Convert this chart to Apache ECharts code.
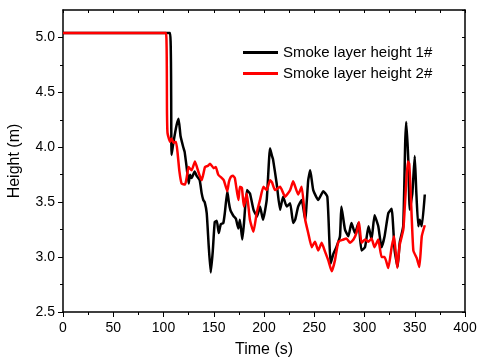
<!DOCTYPE html>
<html lang="en">
<head>
  <meta charset="UTF-8" />
  <title>Smoke layer height</title>
  <script src="https://cdn.jsdelivr.net/npm/echarts@6/dist/echarts.min.js"></script>
  <style>
    html, body, #main {
      margin: 0; padding: 0; width: 100%; height: 100%;
      background: #fff;
    }
  </style>
</head>
<body>
  <div id="main"></div>
  <script>
    const chart = echarts.init(document.getElementById('main'));

    // smoke layer height 1# (black)
    const time1 = [0, 106.5, 108, 110, 113, 115, 117, 119.7, 121, 123, 125, 126.4, 128, 131, 133, 136, 138, 139.6, 141, 143, 145, 147, 149, 151, 153, 155, 157, 159.5, 161, 163.5, 165, 166.5, 168, 170, 172, 174.5, 176, 178.4, 180, 183, 186, 189.6, 193, 196, 199, 202.7, 206, 208, 209, 212.6, 216, 219, 222.6, 226, 229, 231, 234, 237.5, 241, 244, 246, 249, 254, 259, 263, 265, 266.3, 269, 272, 275.6, 277, 280.6, 284, 287, 290.5, 294, 297, 300.5, 304, 307, 310, 313.7, 317, 320, 323.7, 327, 330, 333, 335, 338.5, 340.5, 341.5, 343.6, 345, 347.6, 350, 351.5, 353.5, 355, 357, 360];
    const height1 = [5.04, 5.04, 3.93, 4.05, 4.2, 4.26, 4.1, 4.0, 3.96, 3.82, 3.67, 3.75, 3.72, 3.78, 3.74, 3.70, 3.58, 3.52, 3.50, 3.40, 3.10, 2.86, 3.05, 3.32, 3.33, 3.22, 3.30, 3.31, 3.40, 3.60, 3.50, 3.43, 3.40, 3.37, 3.35, 3.26, 3.34, 3.16, 3.30, 3.61, 3.58, 3.43, 3.37, 3.46, 3.34, 3.52, 3.99, 3.92, 3.89, 3.67, 3.43, 3.55, 3.46, 3.49, 3.31, 3.34, 3.46, 3.52, 3.34, 3.70, 3.79, 3.61, 3.52, 3.60, 3.55, 3.16, 2.94, 3.03, 3.09, 3.19, 3.46, 3.25, 3.19, 3.31, 3.22, 3.31, 3.06, 3.09, 3.28, 3.16, 3.38, 3.28, 3.09, 3.19, 3.40, 3.44, 3.06, 2.91, 3.13, 3.28, 4.04, 4.23, 3.88, 3.43, 3.58, 3.92, 3.60, 3.28, 3.34, 3.28, 3.57];

    // smoke layer height 2# (red)
    const time2 = [0, 102.5, 103.5, 104, 106.5, 108, 110, 112.4, 114, 115.7, 118, 121.4, 123, 125, 128, 131.3, 134.6, 136, 138, 141.3, 144, 146.3, 150, 152, 154.5, 158, 160, 163.5, 165, 167, 169, 171, 174.5, 176, 178, 180, 182.8, 186, 189.5, 192.7, 196, 199.4, 202.7, 206, 208, 211, 216, 221, 226, 229, 234, 237.5, 241, 244, 247.5, 250.7, 254, 257.4, 260.7, 264, 267.4, 270.6, 274, 279, 282, 285.6, 289, 292, 294.5, 297, 300.5, 304, 307, 310, 313.7, 317, 320, 323.7, 327, 329.4, 332.6, 335, 338.6, 340.5, 343, 344.5, 346, 348.6, 352, 354.6, 357, 360];
    const height2 = [5.04, 5.04, 4.3, 4.13, 4.05, 4.08, 4.04, 4.05, 3.95, 3.79, 3.67, 3.66, 3.72, 3.82, 3.79, 3.87, 3.78, 3.74, 3.70, 3.82, 3.83, 3.85, 3.81, 3.82, 3.75, 3.72, 3.70, 3.60, 3.68, 3.73, 3.74, 3.72, 3.52, 3.64, 3.63, 3.46, 3.58, 3.34, 3.23, 3.40, 3.52, 3.64, 3.61, 3.70, 3.68, 3.61, 3.64, 3.55, 3.61, 3.69, 3.57, 3.64, 3.34, 3.22, 3.09, 3.14, 3.06, 3.13, 3.05, 2.97, 2.87, 2.97, 3.14, 3.16, 3.17, 3.13, 3.16, 3.22, 3.32, 3.13, 3.16, 3.14, 3.17, 3.09, 3.16, 3.00, 3.00, 2.90, 3.09, 3.19, 2.90, 3.11, 3.25, 3.52, 3.87, 3.85, 3.58, 3.06, 2.99, 2.91, 3.19, 3.29];

    const yMajor = [2.5, 3.0, 3.5, 4.0, 4.5, 5.0];
    const yMinor = [2.75, 3.25, 3.75, 4.25, 4.75];

    const font = '"Liberation Sans", Arial, sans-serif';
    const axisLine = { show: true, lineStyle: { color: '#000', width: 1.5 } };

    chart.setOption({
      animation: false,
      grid: { left: 63, right: 14, top: 10, bottom: 50, outerBoundsMode: 'none' },
      legend: {
        orient: 'vertical',
        left: 243,
        top: 45,
        padding: 0,
        icon: 'rect',
        itemWidth: 35,
        itemHeight: 3,
        itemGap: 6,
        textStyle: { fontSize: 15, color: '#000', fontFamily: font },
        data: ['Smoke layer height 1#', 'Smoke layer height 2#']
      },
      xAxis: [
        {
          type: 'value', position: 'bottom', min: 0, max: 400, interval: 50,
          name: 'Time (s)', nameLocation: 'middle', nameGap: 30,
          nameTextStyle: { fontSize: 16, color: '#000', fontFamily: font },
          axisLine: axisLine,
          axisTick: { show: true, length: 5, lineStyle: { color: '#000', width: 1 } },
          minorTick: { show: true, splitNumber: 2, length: 3, lineStyle: { color: '#000', width: 1 } },
          axisLabel: { fontSize: 14, color: '#000', fontFamily: font, margin: 9 },
          splitLine: { show: false }
        },
        {
          type: 'value', position: 'top', min: 0, max: 400, interval: 25,
          axisLine: axisLine,
          axisTick: { show: true, inside: true, length: 3, lineStyle: { color: '#000' } },
          axisLabel: { show: false },
          splitLine: { show: false }
        }
      ],
      yAxis: [
        {
          type: 'value', position: 'left', min: 2.5, max: 5.25, interval: 0.5,
          name: 'Height (m)', nameLocation: 'middle', nameGap: 40,
          nameTextStyle: { fontSize: 16, color: '#000', fontFamily: font },
          axisLine: axisLine,
          axisTick: { show: true, length: 5, customValues: yMajor, lineStyle: { color: '#000', width: 1 } },
          axisLabel: {
            fontSize: 14, color: '#000', fontFamily: font, margin: 8,
            customValues: yMajor,
            formatter: v => v.toFixed(1)
          },
          splitLine: { show: false }
        },
        {
          type: 'value', position: 'left', min: 2.5, max: 5.25,
          axisLine: { show: false },
          axisTick: { show: true, length: 3, customValues: yMinor, lineStyle: { color: '#000', width: 1 } },
          axisLabel: { show: false },
          splitLine: { show: false }
        },
        {
          type: 'value', position: 'right', min: 2.5, max: 5.25, interval: 0.25,
          axisLine: axisLine,
          axisTick: { show: true, inside: true, length: 3, lineStyle: { color: '#000' } },
          axisLabel: { show: false },
          splitLine: { show: false }
        }
      ],
      series: [
        {
          name: 'Smoke layer height 1#',
          type: 'line',
          symbol: 'none',
          smooth: 0.15,
          lineStyle: { color: '#000', width: 2.5 },
          itemStyle: { color: '#000' },
          data: time1.map((t, i) => [t, height1[i]])
        },
        {
          name: 'Smoke layer height 2#',
          type: 'line',
          symbol: 'none',
          smooth: 0.15,
          lineStyle: { color: '#ff0000', width: 2.5 },
          itemStyle: { color: '#ff0000' },
          data: time2.map((t, i) => [t, height2[i]])
        }
      ]
    });
  </script>
</body>
</html>
